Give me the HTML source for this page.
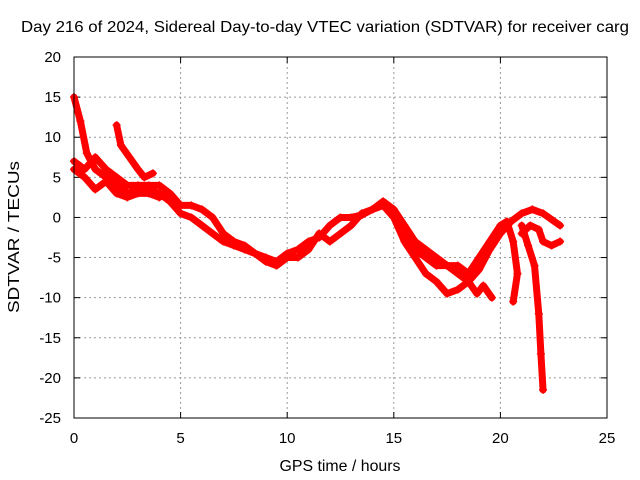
<!DOCTYPE html>
<html><head><meta charset="utf-8"><style>
body{margin:0;background:#fff}
svg{display:block;font-family:"Liberation Sans",sans-serif}
</style></head><body>
<svg id="chart" width="640" height="480">
<text x="325" y="32" font-size="16" text-anchor="middle" textLength="608" lengthAdjust="spacingAndGlyphs">Day 216 of 2024, Sidereal Day-to-day VTEC variation (SDTVAR) for receiver carg</text>
<text x="340" y="471" font-size="16" text-anchor="middle" textLength="121" lengthAdjust="spacingAndGlyphs">GPS time / hours</text>
<text x="19" y="237" font-size="16" text-anchor="middle" textLength="152" lengthAdjust="spacingAndGlyphs" transform="rotate(-90 19 237)">SDTVAR / TECUs</text>
<g id="grid"></g><g id="ticks"></g><g id="series"></g>
<rect x="74" y="57" width="533" height="361" fill="none" stroke="#000" stroke-width="1"/>
</svg>
<script>
const xTicks=[0,5,10,15,20,25];
const yTicks=[20,15,10,5,0,-5,-10,-15,-20,-25];
const track1=[[0,15],[0.3,12],[0.6,8],[1,6],[1.5,5],[2,4],[2.5,3],[3,3.5],[3.5,3.5],[4,3],[4.5,2],[5,0.5],[5.5,0],[6,-1],[6.5,-2],[7,-3],[7.5,-3.5],[8,-4],[8.5,-4.5],[9,-5],[9.5,-5.5],[10,-4.5],[10.5,-4],[11,-3],[11.5,-2.5],[12,-1],[12.5,0],[13,0],[13.5,0.3],[14,1],[14.5,2],[15,1],[15.5,-1],[16,-3],[16.5,-4],[17,-5],[17.5,-6],[18,-6],[18.5,-7],[19,-5],[19.5,-3],[20,-1],[20.3,-0.5],[20.6,-3],[20.8,-7],[20.6,-10.5]];
const track2=[[0,7],[0.5,6],[1,7.5],[1.5,6],[2,5],[2.5,4],[3,4],[3.5,4],[4,4],[4.5,3],[5,1.5],[5.5,1.5],[6,1],[6.5,0],[7,-2],[7.5,-3],[8,-3.5],[8.5,-4.5],[9,-5.5],[9.5,-6],[10,-5],[10.5,-5],[11,-4],[11.5,-2],[12,-3],[12.5,-2],[13,-1],[13.5,0.5],[14,1],[14.5,1.5],[15,0],[15.5,-3],[16,-5],[16.5,-7],[17,-8],[17.5,-9.5],[18,-9],[18.5,-8],[19,-6.5],[19.5,-4],[20,-2],[20.5,-0.5],[21,0.5],[21.5,1],[22,0.5],[22.8,-1]];
const track3=[[2,11.5],[2.2,9],[2.6,7.5],[3,6],[3.3,5],[3.7,5.5]];
const track4=[[21,-1],[21.3,-3.5],[21.6,-6],[21.8,-12],[21.9,-17],[22,-21.5]];
const track5=[[21,-2],[21.4,-1],[21.8,-1.5],[22,-3],[22.4,-3.5],[22.8,-3]];
const track6=[[15,0.5],[15.5,-2],[16,-4],[16.5,-5],[17,-6],[17.5,-6],[18,-7],[18.5,-8],[18.9,-9.5],[19.2,-8.5],[19.6,-10]];
const track7=[[0,6],[0.5,5],[1,3.5],[1.5,4.5],[2,3],[2.5,2.5],[3,3],[3.5,3],[4,2.5]];
const tracks=[track1,track2,track3,track4,track5,track6,track7];
const X=v=>74+(v-0)/25*533;
const Y=v=>57+(20-v)/45*361;
const NS='http://www.w3.org/2000/svg';
const g=document.getElementById('grid'),t=document.getElementById('ticks'),s=document.getElementById('series');
function mk(tag,attrs,parent){const e=document.createElementNS(NS,tag);for(const k in attrs)e.setAttribute(k,attrs[k]);parent.appendChild(e);return e;}
xTicks.forEach(v=>{
 if(v>0&&v<25){const l=mk('line',{x1:X(v),x2:X(v),y1:57,y2:418,stroke:'#999','stroke-dasharray':'2,3'},g);
 
 }
 mk('line',{x1:X(v),x2:X(v),y1:418,y2:412,stroke:'#000'},t);
 mk('line',{x1:X(v),x2:X(v),y1:57,y2:63,stroke:'#000'},t);
 const tx=mk('text',{x:X(v),y:443,'font-size':15,'text-anchor':'middle'},t);tx.textContent=v;
 
 
});
yTicks.forEach(v=>{
 if(v>-25&&v<20){const l=mk('line',{x1:74,x2:607,y1:Y(v),y2:Y(v),stroke:'#999','stroke-dasharray':'2,3'},g);
 
 }
 mk('line',{x1:74,x2:80,y1:Y(v),y2:Y(v),stroke:'#000'},t);
 mk('line',{x1:607,x2:601,y1:Y(v),y2:Y(v),stroke:'#000'},t);
 const tx=mk('text',{x:61,y:Y(v)+5,'font-size':15,'text-anchor':'end'},t);tx.textContent=v;
 
 
});
tracks.forEach((tr,i)=>{
 const pl=mk('polyline',{points:tr.map(p=>X(p[0])+','+Y(p[1])).join(' '),fill:'none',stroke:'#f00','stroke-width':7,'stroke-linejoin':'round','stroke-linecap':'round'},s);
 
 
 tr.forEach(p=>{
  const m=mk('path',{d:`M${X(p[0])-4},${Y(p[1])}h8M${X(p[0])},${Y(p[1])-4}v8`,stroke:'#f00','stroke-width':1.5},s);
  
  
 });
});
</script>
</body></html>
